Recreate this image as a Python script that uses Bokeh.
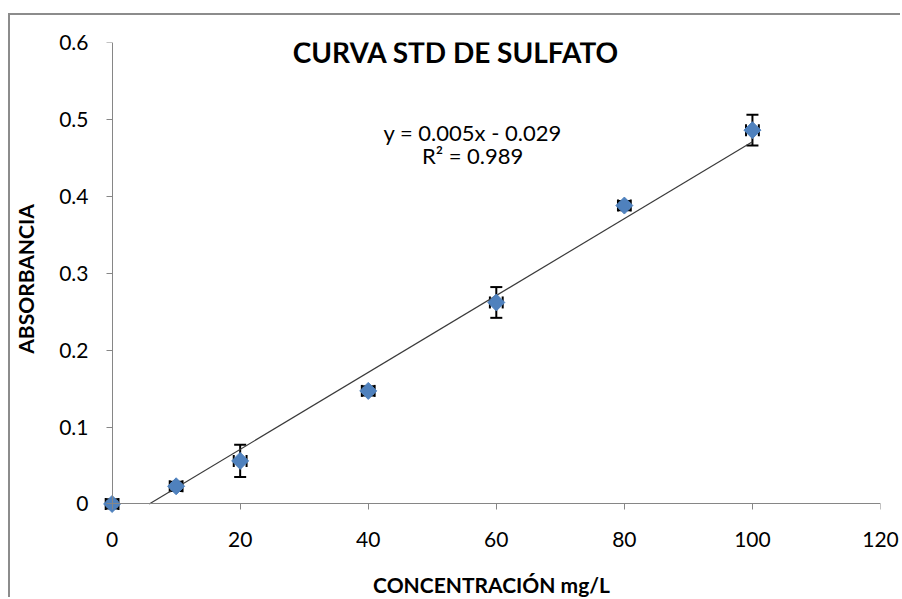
import numpy as np
from bokeh.plotting import figure
from bokeh.models import ColumnDataSource, Whisker, TeeHead, Label, Range1d, FixedTicker, LinearAxis
from bokeh.embed import file_html
from bokeh.resources import INLINE

# Sulfate standard curve: concentration (mg/L) vs absorbance
concentracion = [0, 10, 20, 40, 60, 80, 100]
absorbancia = [0.000, 0.023, 0.056, 0.147, 0.262, 0.388, 0.486]
error_y = [0.006, 0.006, 0.021, 0.006, 0.020, 0.006, 0.020]
error_x = [1.0, 1.0, 1.0, 1.0, 1.0, 1.0, 1.0]

# linear trendline as reported on the chart
pendiente = 0.005
intercepto = -0.029
r_cuadrado = 0.989

x_ticks = [0, 20, 40, 60, 80, 100, 120]
y_ticks = [0, 0.1, 0.2, 0.3, 0.4, 0.5, 0.6]

titulo = "CURVA STD DE SULFATO"
eje_x = "CONCENTRACIÓN mg/L"
eje_y = "ABSORBANCIA"

FONT = "Lato"
AXIS_GRAY = "#868686"
BLUE = "#4F81BD"

x = np.array(concentracion, dtype=float)
y = np.array(absorbancia, dtype=float)
ex = np.array(error_x)
ey = np.array(error_y)

src = ColumnDataSource(dict(
    x=x, y=y,
    y_lo=y - ey, y_hi=y + ey,
    x_lo=x - ex, x_hi=x + ex,
))

# a little room below/left of the origin so the marker at (0, 0) is not clipped
p = figure(
    width=892, height=584,
    x_range=Range1d(-1.5, 120), y_range=Range1d(-0.015, 0.6),
    x_axis_location=None, y_axis_location=None,
    output_backend="svg", toolbar_location=None,
    min_border_left=91, min_border_right=22,
    min_border_top=27, min_border_bottom=84,
    margin=(13, 0, 0, 8),
    styles={"border-left": "2px solid #8c8c8c", "border-top": "2px solid #8c8c8c"},
)
p.outline_line_color = None
p.xgrid.visible = False
p.ygrid.visible = False
p.background_fill_color = "white"
p.border_fill_color = "white"


def label_axis(ticks, standoff, title, title_standoff):
    # axis on the frame edge carrying only tick labels and the axis title
    ax = LinearAxis(ticker=FixedTicker(ticks=ticks))
    ax.axis_line_color = None
    ax.major_tick_line_color = None
    ax.minor_tick_line_color = None
    ax.major_tick_out = 0
    ax.major_tick_in = 0
    ax.major_label_standoff = standoff
    ax.major_label_text_font = FONT
    ax.major_label_text_font_size = "21px"
    ax.major_label_text_color = "black"
    ax.axis_label = title
    ax.axis_label_standoff = title_standoff
    ax.axis_label_text_font = FONT
    ax.axis_label_text_font_style = "bold"
    ax.axis_label_text_font_size = "21px"
    ax.axis_label_text_color = "black"
    return ax


def line_axis(ticks, bounds):
    # axis line and ticks pinned at the origin
    ax = LinearAxis(ticker=FixedTicker(ticks=ticks), fixed_location=0, bounds=bounds)
    ax.axis_line_color = AXIS_GRAY
    ax.axis_line_width = 1
    ax.major_tick_line_color = AXIS_GRAY
    ax.major_tick_out = 6
    ax.major_tick_in = 0
    ax.minor_tick_line_color = None
    ax.major_label_text_color = None
    ax.major_label_text_font_size = "1px"
    ax.major_label_standoff = 0
    return ax


yl = label_axis(y_ticks, 14, eje_y, 18)
yl.major_label_overrides = {0: "0"}
xl = label_axis(x_ticks, 16, eje_x, 22)
p.add_layout(yl, "left")
p.add_layout(xl, "below")
p.add_layout(line_axis(y_ticks, (0, 0.6)), "left")
p.add_layout(line_axis(x_ticks, (0, 120)), "below")

# trendline, clipped at y = 0
x0 = max(0.0, -intercepto / pendiente)
fx = np.array([x0, x.max()])
p.line(fx, pendiente * fx + intercepto, line_color="#3a3a3a", line_width=1.2)

# error bars
p.add_layout(Whisker(source=src, base="x", lower="y_lo", upper="y_hi", dimension="height",
                     line_color="black", line_width=2, level="underlay",
                     upper_head=TeeHead(size=12, line_color="black", line_width=2),
                     lower_head=TeeHead(size=12, line_color="black", line_width=2)))
p.add_layout(Whisker(source=src, base="y", lower="x_lo", upper="x_hi", dimension="width",
                     line_color="black", line_width=2, level="underlay",
                     upper_head=TeeHead(size=12, line_color="black", line_width=2),
                     lower_head=TeeHead(size=12, line_color="black", line_width=2)))

# data markers (diamonds)
p.scatter("x", "y", source=src, marker="square", angle=np.pi / 4, size=12,
          fill_color=BLUE, line_color=BLUE, line_width=1)

# title and trendline equation
p.add_layout(Label(x=53.7, y=0.587, text=titulo, text_font=FONT, text_font_style="bold",
                   text_font_size="28px", text_color="black",
                   text_align="center", text_baseline="middle"))
signo = "-" if intercepto < 0 else "+"
eq = f"y = {pendiente:.3f}x {signo} {abs(intercepto):.3f}"
p.add_layout(Label(x=56.3, y=0.483, text=eq, text_font=FONT, text_font_size="22px",
                   text_color="black", text_align="center", text_baseline="middle"))
p.add_layout(Label(x=56.3, y=0.453, text=f"R² = {r_cuadrado:.3f}", text_font=FONT,
                   text_font_size="22px", text_color="black",
                   text_align="center", text_baseline="middle"))

open("out.html", "w").write(file_html(p, INLINE))
